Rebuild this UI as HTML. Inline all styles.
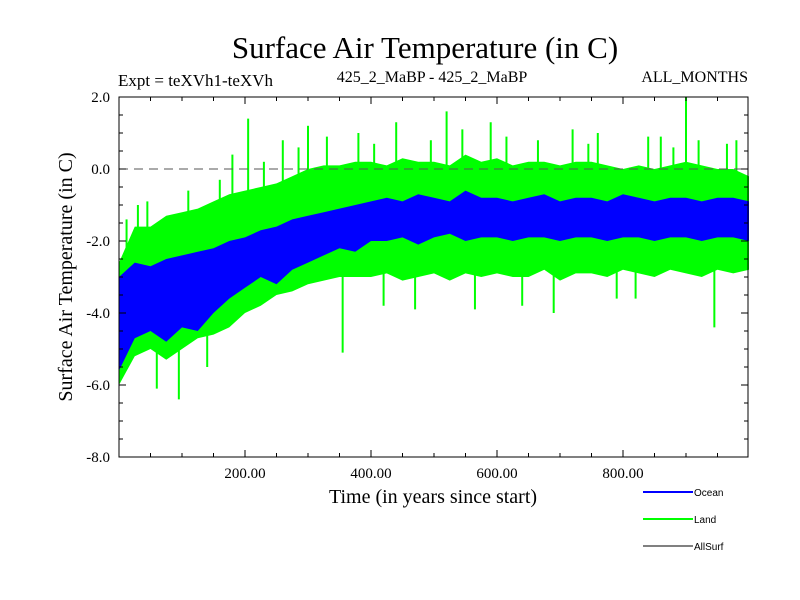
<!DOCTYPE html>
<html><head><meta charset="utf-8"><style>
body{margin:0;background:#fff;}
svg{display:block;font-family:"Liberation Serif",serif;}
</style></head><body>
<svg id="chart" width="800" height="600">
<text x="425" y="58" font-size="31" text-anchor="middle">Surface Air Temperature (in C)</text>
<text x="118" y="86" font-size="17">Expt = teXVh1-teXVh</text>
<text x="432" y="82" font-size="16" text-anchor="middle">425_2_MaBP - 425_2_MaBP</text>
<text x="748" y="82" font-size="16" text-anchor="end">ALL_MONTHS</text>
<text x="433" y="503" font-size="20" text-anchor="middle">Time (in years since start)</text>
<text transform="translate(72,277) rotate(-90)" font-size="20" text-anchor="middle">Surface Air Temperature (in C)</text>
<g id="plot"></g>
<g id="axes"></g>
<g font-family="Liberation Sans, sans-serif" font-size="10">
<line x1="643" y1="492" x2="693" y2="492" stroke="#0000ff" stroke-width="2"/><text x="694" y="496">Ocean</text>
<line x1="643" y1="519" x2="693" y2="519" stroke="#00ff00" stroke-width="2"/><text x="694" y="523">Land</text>
<line x1="643" y1="546" x2="693" y2="546" stroke="#000" stroke-width="1"/><text x="694" y="550">AllSurf</text>
</g>
</svg>
<script>
const years=[0,25,50,75,100,125,150,175,200,225,250,275,300,325,350,375,400,425,450,475,500,525,550,575,600,625,650,675,700,725,750,775,800,825,850,875,900,925,950,975,1000];
const oceanHi=[-3.0,-2.6,-2.7,-2.5,-2.4,-2.3,-2.2,-2.0,-1.9,-1.7,-1.6,-1.4,-1.3,-1.2,-1.1,-1.0,-0.9,-0.8,-0.9,-0.7,-0.8,-0.9,-0.6,-0.8,-0.8,-0.9,-0.8,-0.7,-0.9,-0.8,-0.8,-0.9,-0.7,-0.8,-0.9,-0.8,-0.8,-0.9,-0.8,-0.8,-0.9];
const oceanLo=[-5.6,-4.7,-4.5,-4.8,-4.4,-4.5,-4.0,-3.6,-3.3,-3.0,-3.2,-2.8,-2.6,-2.4,-2.2,-2.3,-2.0,-2.0,-1.9,-2.1,-1.9,-1.8,-2.0,-1.9,-1.9,-2.0,-1.9,-1.9,-2.0,-1.9,-1.9,-2.0,-1.9,-1.9,-2.0,-1.9,-1.9,-2.0,-1.9,-1.9,-2.0];
const landHi=[-2.6,-1.6,-1.6,-1.3,-1.2,-1.1,-0.9,-0.7,-0.6,-0.5,-0.4,-0.2,0.0,0.1,0.1,0.2,0.2,0.1,0.3,0.2,0.2,0.1,0.4,0.2,0.3,0.1,0.2,0.2,0.1,0.2,0.2,0.1,0.0,0.1,0.0,0.1,0.2,0.1,0.0,0.0,-0.2];
const landLo=[-6.0,-5.2,-5.0,-5.3,-5.0,-4.7,-4.6,-4.4,-4.0,-3.8,-3.5,-3.4,-3.2,-3.1,-3.0,-3.0,-3.0,-2.9,-3.1,-3.0,-2.9,-3.1,-2.9,-3.0,-2.9,-3.0,-3.0,-2.8,-3.1,-2.9,-2.9,-3.0,-2.8,-2.9,-3.0,-2.8,-2.9,-3.0,-2.8,-2.9,-2.8];
const spikeYears=[12,30,45,60,95,110,140,160,180,205,230,260,285,300,330,355,380,405,420,440,470,495,520,545,565,590,615,640,665,690,720,745,760,790,820,840,860,880,900,920,945,965,980];
const spikeVals=[-1.4,-1.0,-0.9,-6.1,-6.4,-0.6,-5.5,-0.3,0.4,1.4,0.2,0.8,0.6,1.2,0.9,-5.1,1.0,0.7,-3.8,1.3,-3.9,0.8,1.6,1.1,-3.9,1.3,0.9,-3.8,0.8,-4.0,1.1,0.7,1.0,-3.6,-3.6,0.9,0.9,0.6,2.0,0.8,-4.4,0.7,0.8];
const spikeBase=[-3,-2,-2,-4,-4,-2,-4,-1,-1,-1,-1,-1,-1,-1,-1,-2,-1,-1,-2,-1,-2,-1,-1,-1,-2,-1,-1,-2,-1,-2,-1,-1,-1,-2,-2,-1,-1,-1,-1,-1,-2,-1,-1];
const yTicks=[2,0,-2,-4,-6,-8];
const xTicks=[200,400,600,800];
const X=t=>119+t*0.63, Y=v=>97+(2-v)*36;
const NS="http://www.w3.org/2000/svg";
const plot=document.getElementById('plot'), axes=document.getElementById('axes');
function mk(tag,attrs,parent){const e=document.createElementNS(NS,tag);for(const k in attrs)e.setAttribute(k,attrs[k]);parent.appendChild(e);return e;}
function band(hi,lo,color,name){
  let pts=years.map((t,i)=>X(t)+','+Y(hi[i]));
  for(let i=years.length-1;i>=0;i--)pts.push(X(years[i])+','+Y(lo[i]));
  const p=mk('polygon',{points:pts.join(' '),fill:color},plot);
  
  
}
band(landHi,landLo,'#00ff00','land-series');
spikeYears.forEach((t,i)=>{
  const l=mk('line',{x1:X(t),x2:X(t),y1:Y(spikeBase[i]),y2:Y(spikeVals[i]),stroke:'#00ff00','stroke-width':2},plot);
  
  
});
band(oceanHi,oceanLo,'#0000ff','ocean-series');
const z=mk('line',{x1:119,x2:748,y1:Y(0),y2:Y(0),stroke:'#555','stroke-dasharray':'9,6'},axes);


const fr=mk('rect',{x:119,y:97,width:629,height:360,fill:'none',stroke:'#000'},axes);


for(let v=2;v>=-8;v-=0.5){
  const len=(v%2===0)?7:4;
  mk('line',{x1:119,x2:119+len,y1:Y(v),y2:Y(v),stroke:'#000'},axes);
  mk('line',{x1:748,x2:748-len,y1:Y(v),y2:Y(v),stroke:'#000'},axes);
}
for(let t=50;t<1000;t+=50){
  const len=(t%200===0)?7:4;
  mk('line',{x1:X(t),x2:X(t),y1:457,y2:457-len,stroke:'#000'},axes);
  mk('line',{x1:X(t),x2:X(t),y1:97,y2:97+len,stroke:'#000'},axes);
}
yTicks.forEach(v=>{
  const t=mk('text',{x:110,y:Y(v)+5,'text-anchor':'end','font-size':15},axes);
  t.textContent=v.toFixed(1);
  
  
});
xTicks.forEach(v=>{
  const t=mk('text',{x:X(v),y:478,'text-anchor':'middle','font-size':15},axes);
  t.textContent=v.toFixed(2);
  
  
});
</script>
</body></html>
